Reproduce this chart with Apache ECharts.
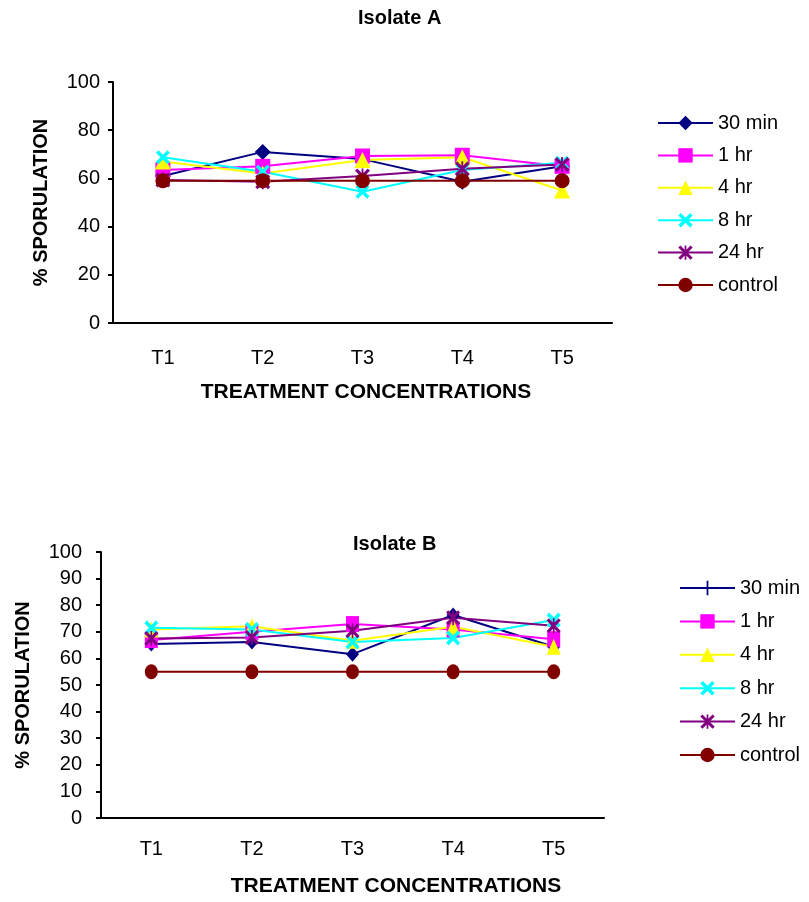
<!DOCTYPE html>
<html>
<head>
<meta charset="utf-8">
<script src="https://cdn.jsdelivr.net/npm/echarts@6/dist/echarts.min.js"></script>
<style>
  html, body { margin: 0; padding: 0; background: #fff; }
  #chartA { width: 809px; height: 450px; }
  #chartB { width: 809px; height: 452px; }
</style>
</head>
<body>
<div id="chartA"></div>
<div id="chartB"></div>
<script>
// categories / labels
const categories = ['T1', 'T2', 'T3', 'T4', 'T5'];
const seriesNames = ['30 min', '1 hr', '4 hr', '8 hr', '24 hr', 'control'];

// Isolate A
const a30min = [61, 71, 68, 58.6, 65];
const a1hr = [63.5, 65, 69.3, 69.6, 65];
const a4hr = [67, 62, 67.6, 68.8, 55];
const a8hr = [68.8, 62.8, 54.5, 63.5, 66.5];
const a24hr = [59.3, 58.6, 61, 64, 65.8];
const aControl = [59, 59, 59, 59, 59];

// Isolate B
const b30min = [65.4, 66.2, 61.6, 76.3, 64.4];
const b1hr = [66.9, 70, 72.9, 70.9, 67.2];
const b4hr = [70.9, 72.1, 66.6, 71.9, 64.4];
const b8hr = [71.5, 70.9, 66.2, 67.7, 74.4];
const b24hr = [67.5, 67.9, 70.4, 75.3, 72.3];
const bControl = [55, 55, 55, 55, 55];

const colors = ['#000080', '#ff00ff', '#ffff00', '#00ffff', '#800080', '#800000'];

// marker paths (filled)
const xPath = 'path://M3.5,0 L20,16.5 L16.5,20 L0,3.5 Z M16.5,0 L20,3.5 L3.5,20 L0,16.5 Z';
const starPath = 'path://M3,0 L20,17 L17,20 L0,3 Z M17,0 L20,3 L3,20 L0,17 Z M8.8,0 L11.2,0 L11.2,20 L8.8,20 Z';
const plusPath = 'path://M8.8,0 L11.2,0 L11.2,20 L8.8,20 Z M0,8.8 L20,8.8 L20,11.2 L0,11.2 Z';

const font = 'Liberation Sans, Arial, sans-serif';

function makeSeries(lists, symbols, sizes) {
    return lists.map(function (vals, i) {
        return {
            name: seriesNames[i],
            type: 'line',
            data: vals,
            symbol: symbols[i],
            symbolSize: sizes[i],
            lineStyle: { color: colors[i], width: 2 },
            itemStyle: { color: colors[i] },
            emphasis: { disabled: true },
            animation: false
        };
    });
}

function baseOption(cfg) {
    return {
        animation: false,
        title: {
            text: cfg.title,
            left: cfg.titleLeft,
            top: cfg.titleTop,
            padding: 0,
            textStyle: { fontFamily: font, fontSize: 20, fontWeight: 'bold', color: '#000' }
        },
        legend: {
            orient: 'vertical',
            left: cfg.legendLeft,
            top: cfg.legendTop,
            padding: 0,
            itemWidth: 55,
            itemHeight: 18,
            itemGap: cfg.legendGap,
            data: seriesNames,
            selectedMode: false,
            textStyle: { fontFamily: font, fontSize: 20, color: '#000', lineHeight: 20 }
        },
        grid: cfg.grid,
        xAxis: {
            type: 'category',
            data: categories,
            name: 'TREATMENT CONCENTRATIONS',
            nameLocation: 'middle',
            nameGap: cfg.xNameGap,
            nameTextStyle: {
                fontFamily: font, fontSize: 21, fontWeight: 'bold', color: '#000',
                padding: [0, 0, 0, cfg.xNameShift]
            },
            axisLine: { lineStyle: { color: '#000', width: 2 } },
            axisTick: { length: 5, lineStyle: { color: '#000', width: 2 } },
            axisLabel: { fontFamily: font, fontSize: 20, color: '#000', margin: cfg.xLabelMargin }
        },
        yAxis: {
            type: 'value',
            min: 0,
            max: 100,
            interval: cfg.yInterval,
            name: '% SPORULATION',
            nameLocation: 'middle',
            nameGap: cfg.yNameGap,
            nameTextStyle: { fontFamily: font, fontSize: 20, fontWeight: 'bold', color: '#000' },
            axisLine: { show: true, lineStyle: { color: '#000', width: 2 } },
            axisTick: { show: true, length: 5, lineStyle: { color: '#000', width: 2 } },
            axisLabel: { fontFamily: font, fontSize: 20, color: '#000', margin: cfg.yLabelMargin },
            splitLine: { show: false }
        },
        series: cfg.series
    };
}

// chart A
const chartA = echarts.init(document.getElementById('chartA'));
chartA.setOption(baseOption({
    title: 'Isolate A',
    titleLeft: 358,
    titleTop: 8,
    legendLeft: 657,
    legendTop: 113,
    legendGap: 12.4,
    grid: { left: 113, top: 82, width: 499, height: 241 },
    xNameGap: 59,
    xNameShift: 7,
    xLabelMargin: 25,
    yInterval: 20,
    yNameGap: 62,
    yLabelMargin: 13,
    series: makeSeries(
        [a30min, a1hr, a4hr, a8hr, a24hr, aControl],
        ['diamond', 'rect', 'triangle', xPath, starPath, 'circle'],
        [16, 15, 16, 14, 15, 15]
    )
}));

// chart B : 30 min points are diamonds, legend shows a plus
const seriesB = makeSeries(
    [b30min, b1hr, b4hr, b8hr, b24hr, bControl],
    [plusPath, 'rect', 'triangle', xPath, starPath, 'circle'],
    [[13, 15], [13, 16], [14, 16], [14, 15], [14, 15], [13, 15]]
);
seriesB[0].data = b30min.map(function (v) { return { value: v, symbol: 'diamond' }; });

const chartB = echarts.init(document.getElementById('chartB'));
chartB.setOption(baseOption({
    title: 'Isolate B',
    titleLeft: 353,
    titleTop: 84,
    legendLeft: 679,
    legendTop: 128,
    legendGap: 13.4,
    grid: { left: 101, top: 102, width: 503, height: 266 },
    xNameGap: 58,
    xNameShift: 87,
    xLabelMargin: 21,
    yInterval: 10,
    yNameGap: 68,
    yLabelMargin: 19,
    series: seriesB
}));
</script>
</body>
</html>
